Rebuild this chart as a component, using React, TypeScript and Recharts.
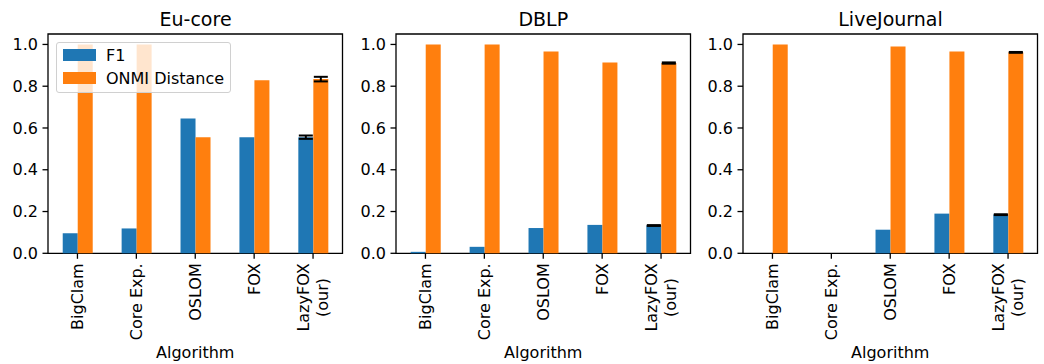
import React from "react";
import { BarChart, Bar, XAxis, YAxis, ErrorBar, ReferenceArea, Legend } from "recharts";

const FONT = "DejaVu Sans, Verdana, sans-serif";
const BLUE = "#1f77b4";
const ORANGE = "#ff7f0e";

const algorithms = ["BigClam", "Core Exp.", "OSLOM", "FOX", "LazyFOX\n(our)"];
const yTicks = [0, 0.2, 0.4, 0.6, 0.8, 1.0];

// Eu-core
const euCoreF1 = [0.096, 0.119, 0.645, 0.556, 0.556];
const euCoreOnmi = [1.0, 1.0, 0.556, 0.828, 0.834];
const euCoreF1Err = [null, null, null, null, 0.008];
const euCoreOnmiErr = [null, null, null, null, 0.011];

// DBLP
const dblpF1 = [0.007, 0.031, 0.121, 0.136, 0.133];
const dblpOnmi = [1.0, 1.0, 0.966, 0.914, 0.911];
const dblpF1Err = [null, null, null, null, 0.002];
const dblpOnmiErr = [null, null, null, null, 0.003];

// LiveJournal
const ljF1 = [0, 0, 0.113, 0.19, 0.185];
const ljOnmi = [1.0, 0, 0.99, 0.966, 0.962];
const ljF1Err = [null, null, null, null, 0.002];
const ljOnmiErr = [null, null, null, null, 0.002];

function buildRows(f1: number[], onmi: number[], f1Err: (number | null)[], onmiErr: (number | null)[]) {
  return algorithms.map((name, i) => ({
    name,
    f1: f1[i],
    onmi: onmi[i],
    f1Err: f1Err[i],
    onmiErr: onmiErr[i],
  }));
}

const panels = [
  { title: "Eu-core", data: buildRows(euCoreF1, euCoreOnmi, euCoreF1Err, euCoreOnmiErr), plotLeft: 48.3, legend: true },
  { title: "DBLP", data: buildRows(dblpF1, dblpOnmi, dblpF1Err, dblpOnmiErr), plotLeft: 396, legend: false },
  { title: "LiveJournal", data: buildRows(ljF1, ljOnmi, ljF1Err, ljOnmiErr), plotLeft: 743.3, legend: false },
];

const PLOT_W = 294.5;
const PLOT_TOP = 34;
const PLOT_BOTTOM = 253.3;
const H = 364;
const Y_AXIS_W = 48;
const RIGHT_PAD = 4;

let ctx: CanvasRenderingContext2D | null = null;
function textWidth(s: string) {
  if (!ctx) ctx = document.createElement("canvas").getContext("2d");
  if (!ctx) return s.length * 9;
  ctx.font = `16px ${FONT}`;
  return ctx.measureText(s).width;
}

function AlgoTick(props: any) {
  const { x, y, payload } = props;
  const lines = String(payload.value).split("\n");
  const style = { fontSize: 16, fontFamily: FONT, fill: "#000" };
  if (lines.length === 1) {
    return (
      <text transform={`translate(${x},${y}) rotate(-90)`} textAnchor="end" dy="0.35em" style={style}>
        {lines[0]}
      </text>
    );
  }
  const longest = Math.max(...lines.map(textWidth));
  const lh = 19;
  return (
    <g transform={`translate(${x},${y}) rotate(-90)`}>
      {lines.map((l, i) => (
        <text key={i} x={-longest / 2} y={(i - (lines.length - 1) / 2) * lh} dy="0.35em" textAnchor="middle" style={style}>
          {l}
        </text>
      ))}
    </g>
  );
}

function LegendBox(props: any) {
  const items = props.payload || [];
  return (
    <div
      style={{
        width: 175,
        height: 51,
        boxSizing: "border-box",
        border: "1px solid #d0d0d0",
        borderRadius: 3,
        background: "rgba(255,255,255,0.8)",
        paddingTop: 1,
        fontFamily: FONT,
        fontSize: 16,
        color: "#000",
      }}
    >
      {items.map((it: any) => (
        <div key={it.value} style={{ display: "flex", alignItems: "center", height: 23 }}>
          <span style={{ display: "inline-block", width: 33, height: 12, marginLeft: 6, marginRight: 10, background: it.color }} />
          <span style={{ lineHeight: "23px", whiteSpace: "nowrap" }}>{it.value}</span>
        </div>
      ))}
    </div>
  );
}

function Panel({ title, data, plotLeft, legend }: any) {
  const left = plotLeft - Y_AXIS_W;
  const width = Y_AXIS_W + PLOT_W + RIGHT_PAD;
  return (
    <div style={{ position: "absolute", left, top: 0, width, height: H }}>
      <div
        style={{
          position: "absolute",
          left: Y_AXIS_W,
          width: PLOT_W,
          top: 10,
          lineHeight: "19px",
          textAlign: "center",
          fontFamily: FONT,
          fontSize: 19,
          color: "#000",
        }}
      >
        {title}
      </div>
      <BarChart
        width={width}
        height={H}
        data={data}
        margin={{ top: PLOT_TOP, right: RIGHT_PAD, bottom: 0, left: 0 }}
        barCategoryGap="25%"
        barGap={0}
      >
        <XAxis
          dataKey="name"
          axisLine={false}
          tickLine={{ stroke: "#000", strokeWidth: 1.3 }}
          tickSize={5.5}
          tickMargin={4.5}
          interval={0}
          height={H - PLOT_BOTTOM}
          tick={<AlgoTick />}
          label={{ value: "Algorithm", position: "insideBottom", offset: 6, style: { fontSize: 16, fontFamily: FONT, fill: "#000" } }}
        />
        <YAxis
          width={Y_AXIS_W}
          domain={[0, 1.05]}
          ticks={yTicks}
          tickFormatter={(v: number) => v.toFixed(1)}
          axisLine={false}
          tickLine={{ stroke: "#000", strokeWidth: 1.3 }}
          tickSize={5.5}
          tickMargin={4.5}
          tick={{ fontSize: 16, fontFamily: FONT, fill: "#000" }}
        />
        <Bar dataKey="f1" name="F1" fill={BLUE} isAnimationActive={false}>
          <ErrorBar dataKey="f1Err" width={7} stroke="#000" strokeWidth={2} direction="y" />
        </Bar>
        <Bar dataKey="onmi" name="ONMI Distance" fill={ORANGE} isAnimationActive={false}>
          <ErrorBar dataKey="onmiErr" width={7} stroke="#000" strokeWidth={2} direction="y" />
        </Bar>
        <ReferenceArea y1={0} y2={1.05} fill="none" stroke="#000" strokeWidth={1.3} ifOverflow="visible" />
        {legend && (
          <Legend
            layout="vertical"
            align="center"
            verticalAlign="middle"
            content={<LegendBox />}
            wrapperStyle={{ left: 56 - left, top: 41.7, width: 175 }}
          />
        )}
      </BarChart>
    </div>
  );
}

export default function App() {
  return (
    <div style={{ position: "absolute", left: 0, top: 0, width: 1044, height: H, background: "#fff" }}>
      {panels.map((p) => (
        <Panel key={p.title} {...p} />
      ))}
    </div>
  );
}
